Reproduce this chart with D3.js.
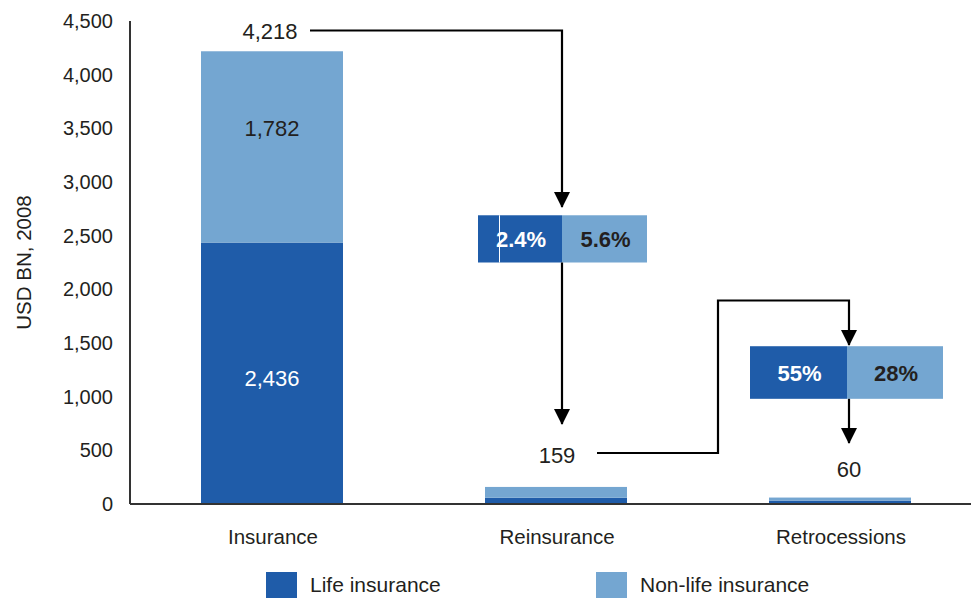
<!DOCTYPE html>
<html>
<head>
<meta charset="utf-8">
<script src="https://cdn.jsdelivr.net/npm/d3@7"></script>
<style>
  html, body { margin: 0; padding: 0; background: #fff; }
  svg { display: block; font-family: "Liberation Sans", Arial, sans-serif; }
</style>
</head>
<body>
<svg id="chart" width="971" height="598"></svg>
<script>
// Premium volumes, USD BN, 2008
const categories = ["Insurance", "Reinsurance", "Retrocessions"];
const lifeValues = [2436, 58, 32];
const nonLifeValues = [1782, 101, 28];
const totalValues = [4218, 159, 60];
const yTicks = [0, 500, 1000, 1500, 2000, 2500, 3000, 3500, 4000, 4500];
const seriesNames = ["Life insurance", "Non-life insurance"];
// share ceded at each step (life, non-life)
const cededLife = ["2.4%", "55%"];
const cededNonLife = ["5.6%", "28%"];

const colors = { life: "#1f5ca9", nonLife: "#74a6d1", ink: "#231f20", axis: "#333" };

const svg = d3.select("#chart");
const W = 971;

const x = d3.scaleBand().domain(categories).range([130, 982])
  .paddingInner(0.5).paddingOuter(0.25);
const y = d3.scaleLinear().domain([0, 4500]).range([504, 21]);

const fmt = d3.format(",");

// stacked bars
const rows = categories.map((c, i) => ({ cat: c, life: lifeValues[i], nonLife: nonLifeValues[i] }));
const stack = d3.stack().keys(["life", "nonLife"])(rows);

svg.append("g").selectAll("g").data(stack).join("g")
  .attr("fill", d => colors[d.key])
  .selectAll("rect").data(d => d).join("rect")
  .attr("x", d => x(d.data.cat))
  .attr("width", x.bandwidth())
  .attr("y", d => y(d[1]))
  .attr("height", d => y(d[0]) - y(d[1]));

// segment labels on the first bar
const cx0 = x(categories[0]) + x.bandwidth() / 2;
svg.append("text").attr("x", cx0).attr("y", (y(0) + y(lifeValues[0])) / 2 + 5)
  .attr("text-anchor", "middle").attr("dominant-baseline", "central")
  .attr("font-size", 22).attr("fill", "#fff").text(fmt(lifeValues[0]));
svg.append("text").attr("x", cx0).attr("y", y(lifeValues[0] + nonLifeValues[0] * 0.6) + 1)
  .attr("text-anchor", "middle").attr("dominant-baseline", "central")
  .attr("font-size", 22).attr("fill", colors.ink).text(fmt(nonLifeValues[0]));

// y axis
const yAxis = d3.axisLeft(y).tickValues(yTicks).tickFormat(fmt).tickSize(0).tickPadding(17);
const gy = svg.append("g").attr("transform", "translate(130,0)").call(yAxis);
gy.select(".domain").remove();
gy.selectAll("text").attr("font-size", 20).attr("fill", colors.ink)
  .attr("font-family", "Liberation Sans, Arial, sans-serif");
svg.append("line").attr("x1", 130).attr("x2", 130).attr("y1", y(4500)).attr("y2", y(0))
  .attr("stroke", colors.axis).attr("stroke-width", 2);
svg.append("line").attr("x1", 130).attr("x2", W).attr("y1", y(0)).attr("y2", y(0))
  .attr("stroke", colors.axis).attr("stroke-width", 2);

svg.append("text")
  .attr("transform", `translate(23,${(y(4500) + y(0)) / 2}) rotate(-90)`)
  .attr("text-anchor", "middle").attr("dominant-baseline", "central")
  .attr("font-size", 20.5).attr("fill", colors.ink).text("USD BN, 2008");

// category labels
svg.append("g").selectAll("text").data(categories).join("text")
  .attr("x", d => x(d) + x.bandwidth() / 2 + 1)
  .attr("y", 536)
  .attr("text-anchor", "middle").attr("dominant-baseline", "central")
  .attr("font-size", 20.5).attr("fill", colors.ink).text(d => d);

// ceded-share boxes: [left, split, right] and vertical extent in data units
const boxes = [
  { left: 478, split: 562, right: 647, top: 2690, bottom: 2250, life: cededLife[0], nonLife: cededNonLife[0] },
  { left: 750, split: 847, right: 943, top: 1470, bottom: 980, life: cededLife[1], nonLife: cededNonLife[1] }
];
const gb = svg.append("g");
boxes.forEach(b => {
  gb.append("rect").attr("x", b.left).attr("y", y(b.top)).attr("width", b.split - b.left)
    .attr("height", y(b.bottom) - y(b.top)).attr("fill", colors.life);
  gb.append("rect").attr("x", b.split).attr("y", y(b.top)).attr("width", b.right - b.split)
    .attr("height", y(b.bottom) - y(b.top)).attr("fill", colors.nonLife);
  const my = (y(b.top) + y(b.bottom)) / 2 + 1;
  gb.append("text").attr("x", (b.left + b.split) / 2 + 1).attr("y", my)
    .attr("text-anchor", "middle").attr("dominant-baseline", "central")
    .attr("font-size", 22).attr("font-weight", "bold").attr("fill", "#fff").text(b.life);
  gb.append("text").attr("x", (b.split + b.right) / 2 + 1).attr("y", my)
    .attr("text-anchor", "middle").attr("dominant-baseline", "central")
    .attr("font-size", 22).attr("font-weight", "bold").attr("fill", colors.ink).text(b.nonLife);
});
// thin light rule inside the first box
gb.append("line").attr("x1", 499.5).attr("x2", 499.5)
  .attr("y1", y(boxes[0].top)).attr("y2", y(boxes[0].bottom))
  .attr("stroke", "#fff").attr("stroke-width", 1);

// total labels
const totalPos = [
  { x: cx0 - 2, y: 31 },
  { x: x(categories[1]) + x.bandwidth() / 2 + 1, y: 455 },
  { x: boxes[1].split + 2, y: 469 }
];
svg.append("g").selectAll("text").data(totalValues).join("text")
  .attr("x", (d, i) => totalPos[i].x).attr("y", (d, i) => totalPos[i].y)
  .attr("text-anchor", "middle").attr("dominant-baseline", "central")
  .attr("font-size", 22).attr("fill", colors.ink).text(d => fmt(d));

// flow arrows (arrowhead drawn along the path direction)
svg.append("defs").append("marker")
  .attr("id", "head").attr("markerUnits", "userSpaceOnUse")
  .attr("viewBox", "0 0 16 16").attr("refX", 15).attr("refY", 8)
  .attr("markerWidth", 16).attr("markerHeight", 16).attr("orient", "auto")
  .append("path").attr("d", "M0,0 L16,8 L0,16 Z").attr("fill", "#000");

const a1x = boxes[0].split, a2x = boxes[1].split + 2;
const flows = [
  [[310, 30.5], [a1x, 30.5], [a1x, 207]],
  [[a1x, y(boxes[0].bottom)], [a1x, 424]],
  [[597, 453], [718, 453], [718, 300.5], [a2x, 300.5], [a2x, 345]],
  [[a2x, y(boxes[1].bottom)], [a2x, 443]]
];
const line = d3.line();
svg.append("g").selectAll("path").data(flows).join("path")
  .attr("d", d => line(d))
  .attr("fill", "none").attr("stroke", "#000").attr("stroke-width", 2.2)
  .attr("marker-end", "url(#head)");

// legend
const legendItems = [
  { name: seriesNames[0], color: colors.life, x: 266 },
  { name: seriesNames[1], color: colors.nonLife, x: 596 }
];
const lg = svg.append("g").selectAll("g").data(legendItems).join("g")
  .attr("transform", d => `translate(${d.x},572)`);
lg.append("rect").attr("width", 31).attr("height", 30).attr("fill", d => d.color);
lg.append("text").attr("x", 44).attr("y", 12).attr("dominant-baseline", "central")
  .attr("font-size", 21).attr("fill", colors.ink).text(d => d.name);
</script>
</body>
</html>
